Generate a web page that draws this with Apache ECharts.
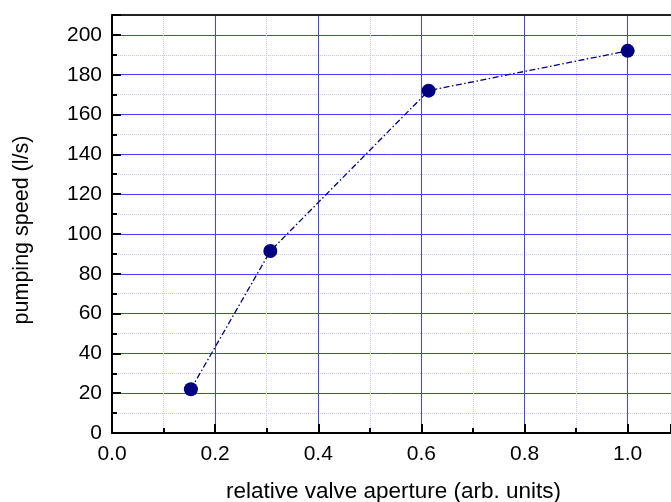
<!DOCTYPE html>
<html>
<head>
<meta charset="utf-8">
<script src="https://cdn.jsdelivr.net/npm/echarts@6/dist/echarts.min.js"></script>
<style>
  html, body { margin: 0; padding: 0; background: #fff; }
  #chart { width: 671px; height: 502px; }
</style>
</head>
<body>
<div id="chart"></div>
<script>
// Valve aperture vs. pumping speed
const aperture = [0.153, 0.307, 0.614, 1.0];
const pumpingSpeed = [22, 91.4, 172, 192];
const xTitle = 'relative valve aperture (arb. units)';
const yTitle = 'pumping speed (l/s)';

const points = aperture.map((x, i) => [x, pumpingSpeed[i]]);

const font = '"Liberation Sans", Arial, sans-serif';
const majorGrid = '#4141ff';
const minorGrid = '#c4c4ff';

const chart = echarts.init(document.getElementById('chart'), null, { renderer: 'canvas' });
chart.setOption({
  animation: false,
  backgroundColor: '#ffffff',
  grid: {
    left: 112, top: 15, right: 0, height: 418,
    containLabel: false, outerBoundsMode: 'none'
  },
  xAxis: [{
    type: 'value',
    min: 0, max: 1.084, interval: 0.2,
    name: xTitle,
    nameLocation: 'middle',
    nameGap: 47,
    nameTextStyle: { fontFamily: font, fontSize: 22.5, color: '#000', padding: [0, 0, 0, 4] },
    axisLine: { show: true, onZero: false, lineStyle: { color: '#000', width: 2 } },
    axisTick: { show: true, inside: true, length: 9, lineStyle: { color: '#000', width: 2 } },
    minorTick: { show: true, splitNumber: 2, length: 5, lineStyle: { color: '#000', width: 2 } },
    axisLabel: {
      fontFamily: font, fontSize: 21, color: '#000', margin: 11,
      showMaxLabel: false,
      formatter: v => v.toFixed(1)
    },
    splitLine: { show: true, lineStyle: { color: majorGrid, width: 1 } },
    minorSplitLine: { show: true, lineStyle: { color: minorGrid, width: 1, type: 'dotted' } }
  }, {
    // top frame line
    type: 'value', position: 'top', min: 0, max: 1.084,
    axisLine: { show: true, onZero: false, lineStyle: { color: '#222', width: 2 } },
    axisTick: { show: false }, axisLabel: { show: false }, splitLine: { show: false }
  }],
  yAxis: {
    type: 'value',
    min: 0, max: 210, interval: 20,
    name: yTitle,
    nameLocation: 'middle',
    nameGap: 79,
    nameRotate: 90,
    nameTextStyle: { fontFamily: font, fontSize: 21.5, color: '#000', padding: [0, 12, 0, 0] },
    axisLine: { show: true, onZero: false, lineStyle: { color: '#000', width: 2 } },
    axisTick: { show: true, inside: true, length: 9, lineStyle: { color: '#000', width: 2 } },
    minorTick: { show: true, splitNumber: 2, length: 5, lineStyle: { color: '#000', width: 2 } },
    axisLabel: {
      fontFamily: font, fontSize: 21, color: '#000', margin: 10,
      showMaxLabel: false
    },
    splitLine: { show: true, lineStyle: { color: majorGrid, width: 1 } },
    minorSplitLine: { show: true, lineStyle: { color: minorGrid, width: 1, type: 'dotted' } }
  },
  series: [{
    type: 'line',
    data: points,
    symbol: 'circle',
    symbolSize: 14,
    itemStyle: { color: '#000080' },
    lineStyle: { color: '#000080', width: 1.3, type: [6, 2.5, 1.5, 2.5] },
    z: 5
  }]
});
</script>
</body>
</html>
